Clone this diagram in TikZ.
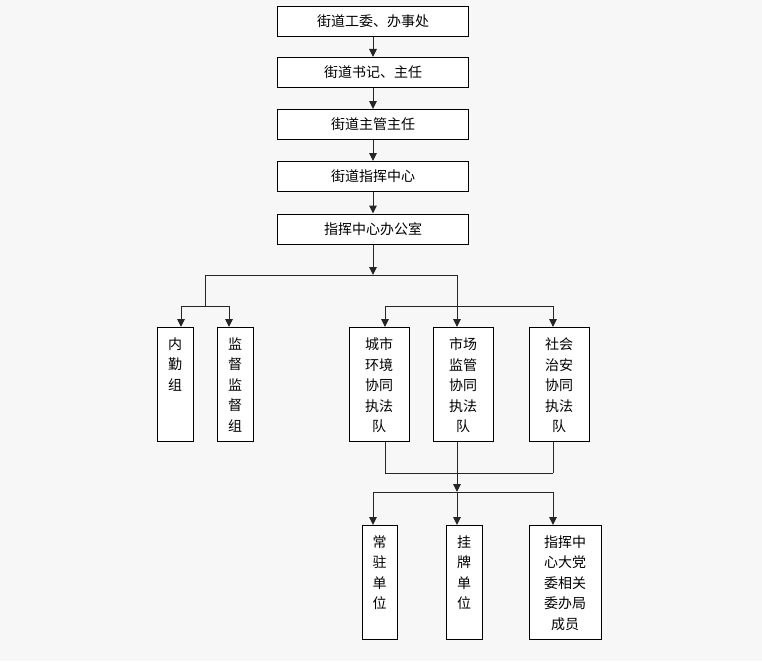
\documentclass[tikz,border=0pt]{standalone}
\usepackage{fontspec}
\setmainfont{Noto Sans CJK SC}
\usetikzlibrary{arrows.meta}
\begin{document}
\begin{tikzpicture}[x=1pt,y=-1pt,
  every node/.style={font=\fontsize{14}{20.5}\selectfont},
  hbox/.style={draw=black, fill=white, line width=1pt, minimum width=191pt, minimum height=30pt, inner sep=0pt},
  vbox/.style={draw=black, fill=white, line width=1pt, minimum height=114pt, anchor=north, inner sep=0pt},
  vtxt/.style={anchor=north, inner sep=0pt, yshift=-10.5pt, align=center},
  ln/.style={draw=black!85, line width=1pt},
  arr/.style={ln, -{Triangle[length=8pt,width=7.5pt]}}]

% page and background
\useasboundingbox (0,0) rectangle (762,661);
\fill[gray!6] (0,0) rectangle (762,661);

% main chain
\node[hbox] (b1) at (373,21.5) {街道工委、办事处};
\node[hbox] (b2) at (373,72.5) {街道书记、主任};
\node[hbox] (b3) at (373,124.5) {街道主管主任};
\node[hbox] (b4) at (373,176.5) {街道指挥中心};
\node[hbox] (b5) at (373,229) {指挥中心办公室};

\draw[arr] (b1.south) -- (b2.north);
\draw[arr] (b2.south) -- (b3.north);
\draw[arr] (b3.south) -- (b4.north);
\draw[arr] (b4.south) -- (b5.north);

% second level
\node[vbox, minimum width=36pt] (nq) at (175,327) {};
\node[vtxt] (nqt) at (nq.north) {内\\勤\\组};
\node[vbox, minimum width=36pt] (jd) at (235,327) {};
\node[vtxt] (jdt) at (jd.north) {监\\督\\监\\督\\组};
\node[vbox, minimum width=60pt] (cs) at (379,327) {};
\node[vtxt] (cst) at (cs.north) {城市\\环境\\协同\\执法\\队};
\node[vbox, minimum width=60pt] (sc) at (463,327) {};
\node[vtxt] (sct) at (sc.north) {市场\\监管\\协同\\执法\\队};
\node[vbox, minimum width=60pt] (sh) at (559,327) {};
\node[vtxt] (sht) at (sh.north) {社会\\治安\\协同\\执法\\队};

% third level
\node[vbox, minimum width=35pt] (cz) at (379.5,525) {};
\node[vtxt] (czt) at (cz.north) {常\\驻\\单\\位};
\node[vbox, minimum width=36pt] (gp) at (464,525) {};
\node[vtxt] (gpt) at (gp.north) {挂\\牌\\单\\位};
\node[vbox, minimum width=72pt] (zh) at (565,525) {};
\node[vtxt] (zht) at (zh.north) {指挥中\\心大党\\委相关\\委办局\\成员};

% junction points
\coordinate (j0) at (373,275);
\coordinate (jl) at (205,275);
\coordinate (jr) at (457,275);
\coordinate (jlb) at (205,306);
\coordinate (jrb) at (457,306);
\coordinate (a1) at (181,306);
\coordinate (a2) at (229,306);
\coordinate (a3) at (385,306);
\coordinate (a4) at (457,306);
\coordinate (a5) at (553,306);
\coordinate (m1) at (385,473);
\coordinate (m2) at (457,473);
\coordinate (m3) at (553,473);
\coordinate (n0) at (457,492);
\coordinate (n1) at (373,492);
\coordinate (n2) at (457,492);
\coordinate (n3) at (553,492);

% branching below the office
\draw[arr] (b5.south) -- (j0);
\draw[ln] (jl) -- (jr);
\draw[ln] (jl) -- (jlb);
\draw[ln] (jr) -- (jrb);
\draw[ln] (a1) -- (a2);
\draw[ln] (a3) -- (a5);
\draw[arr] (a1) -- (a1 |- nq.north);
\draw[arr] (a2) -- (a2 |- jd.north);
\draw[arr] (a3) -- (a3 |- cs.north);
\draw[arr] (a4) -- (a4 |- sc.north);
\draw[arr] (a5) -- (a5 |- sh.north);

% joining the three teams
\draw[ln] (m1 |- cs.south) -- (m1);
\draw[ln] (m2 |- sc.south) -- (m2);
\draw[ln] (m3 |- sh.south) -- (m3);
\draw[ln] (m1) -- (m3);
\draw[arr] (m2) -- (n0);
\draw[ln] (n1) -- (n3);
\draw[arr] (n1) -- (n1 |- cz.north);
\draw[arr] (n2) -- (n2 |- gp.north);
\draw[arr] (n3) -- (n3 |- zh.north);
\end{tikzpicture}
\end{document}
